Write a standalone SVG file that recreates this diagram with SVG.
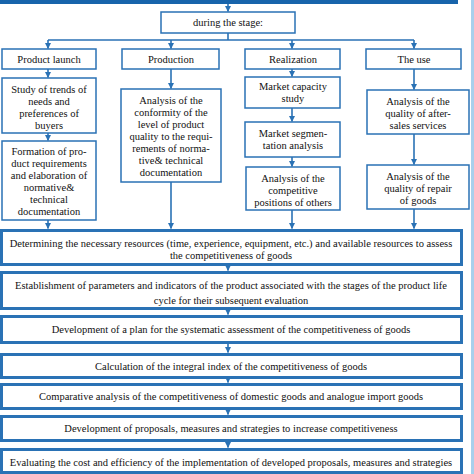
<svg xmlns="http://www.w3.org/2000/svg" width="474" height="474" viewBox="0 0 474 474">
<style>
text{font-family:"Liberation Serif","Times New Roman",serif;font-size:10.5px;fill:#111;text-anchor:middle}
.sb{fill:#fff;stroke:#2a72b5;stroke-width:1.5}
.bb{fill:#fff;stroke:#2a72b5;stroke-width:3}
.c{fill:none;stroke:#2a72b5;stroke-width:1.6}
</style>
<defs>
<marker id="ah" markerUnits="userSpaceOnUse" markerWidth="6" markerHeight="6" refX="5.5" refY="3" orient="auto">
<path d="M0,0 L6,3 L0,6 z" fill="#2a72b5"/>
</marker>
</defs>
<rect x="0" y="0" width="474" height="474" fill="#fff"/>
<rect x="0" y="0" width="458" height="4" fill="#1864ab"/>
<rect x="471" y="0" width="3" height="474" fill="#a8d0ec"/>

<g id="connectors">
<path class="c" d="M228,4 V11.5" marker-end="url(#ah)"/>
<path class="c" d="M228,33 V40 M48,40 H414"/>
<path class="c" d="M48,40 V48.5" marker-end="url(#ah)"/>
<path class="c" d="M171,40 V48.5" marker-end="url(#ah)"/>
<path class="c" d="M292,40 V48.5" marker-end="url(#ah)"/>
<path class="c" d="M414,40 V48.5" marker-end="url(#ah)"/>
<path class="c" d="M48,69 V77.5" marker-end="url(#ah)"/>
<path class="c" d="M48,133 V140.5" marker-end="url(#ah)"/>
<path class="c" d="M171,69 V88.5" marker-end="url(#ah)"/>
<path class="c" d="M292,69 V76.5" marker-end="url(#ah)"/>
<path class="c" d="M292,108 V121.5" marker-end="url(#ah)"/>
<path class="c" d="M292,157 V166.5" marker-end="url(#ah)"/>
<path class="c" d="M414,69 V89.5" marker-end="url(#ah)"/>
<path class="c" d="M414,134 V164.5" marker-end="url(#ah)"/>
<path class="c" d="M48,220 V228.5" marker-end="url(#ah)"/>
<path class="c" d="M171,182 V228.5" marker-end="url(#ah)"/>
<path class="c" d="M292,210 V228.5" marker-end="url(#ah)"/>
<path class="c" d="M414,209 V228.5" marker-end="url(#ah)"/>
<path class="c" d="M228,265 V270.5" marker-end="url(#ah)"/>
<path class="c" d="M228,309 V314.5" marker-end="url(#ah)"/>
<path class="c" d="M228,343 V352.5" marker-end="url(#ah)"/>
<path class="c" d="M228,378 V382.5" marker-end="url(#ah)"/>
<path class="c" d="M228,409 V414.5" marker-end="url(#ah)"/>
<path class="c" d="M228,441 V447.5" marker-end="url(#ah)"/>
</g>

<g id="stage"><rect class="sb" x="161" y="12" width="134" height="21"/><text x="228" y="26">during the stage:</text></g>

<g id="launch"><rect class="sb" x="2" y="49" width="94" height="20"/><text x="49" y="63">Product launch</text></g>
<g id="production"><rect class="sb" x="122" y="49" width="97" height="20"/><text x="171" y="63">Production</text></g>
<g id="realization"><rect class="sb" x="245" y="49" width="95" height="20"/><text x="293" y="63">Realization</text></g>
<g id="use"><rect class="sb" x="366" y="49" width="95" height="20"/><text x="414" y="63">The use</text></g>

<g id="trends"><rect class="sb" x="2" y="78" width="94" height="55"/>
<text x="49" y="93">Study of trends of</text><text x="49" y="105">needs and</text><text x="49" y="117">preferences of</text><text x="49" y="129">buyers</text></g>

<g id="formation"><rect class="sb" x="2" y="141" width="94" height="79"/>
<text x="49" y="155">Formation of pro-</text><text x="49" y="167">duct requirements</text><text x="49" y="179">and elaboration of</text><text x="49" y="191">normative&amp;</text><text x="49" y="203">technical</text><text x="49" y="215">documentation</text></g>

<g id="conformity"><rect class="sb" x="121" y="89" width="100" height="93"/>
<text x="171" y="104">Analysis of the</text><text x="171" y="116">conformity of the</text><text x="171" y="128">level of product</text><text x="171" y="140">quality to the requi-</text><text x="171" y="152">rements of norma-</text><text x="171" y="164">tive&amp; technical</text><text x="171" y="176">documentation</text></g>

<g id="capacity"><rect class="sb" x="245" y="77" width="95" height="31"/>
<text x="293" y="90">Market capacity</text><text x="293" y="102">study</text></g>

<g id="segmentation"><rect class="sb" x="245" y="122" width="95" height="35"/>
<text x="293" y="137">Market segmen-</text><text x="293" y="149">tation analysis</text></g>

<g id="competitive"><rect class="sb" x="246" y="167" width="94" height="43"/>
<text x="293" y="182">Analysis of the</text><text x="293" y="194">competitive</text><text x="293" y="206">positions of others</text></g>

<g id="aftersales"><rect class="sb" x="367" y="90" width="102" height="44"/>
<text x="418" y="105">Analysis of the</text><text x="418" y="117">quality of after-</text><text x="418" y="129">sales services</text></g>

<g id="repair"><rect class="sb" x="367" y="165" width="102" height="44"/>
<text x="418" y="180">Analysis of the</text><text x="418" y="192">quality of repair</text><text x="418" y="204">of goods</text></g>

<g id="resources"><rect class="bb" x="1.5" y="230.5" width="460" height="34"/>
<text x="231" y="247">Determining the necessary resources (time, experience, equipment, etc.) and available resources to assess</text>
<text x="231" y="259">the competitiveness of goods</text></g>

<g id="parameters"><rect class="bb" x="1.5" y="272.5" width="460" height="36"/>
<text x="231" y="289">Establishment of parameters and indicators of the product associated with the stages of the product life</text>
<text x="231" y="304">cycle for their subsequent evaluation</text></g>

<g id="plan"><rect class="bb" x="1.5" y="316.5" width="460" height="26"/>
<text x="231" y="333">Development of a plan for the systematic assessment of the competitiveness of goods</text></g>

<g id="integral"><rect class="bb" x="1.5" y="354.5" width="460" height="23"/>
<text x="231" y="369.5">Calculation of the integral index of the competitiveness of goods</text></g>

<g id="comparative"><rect class="bb" x="1.5" y="384.5" width="460" height="24"/>
<text x="231" y="400">Comparative analysis of the competitiveness of domestic goods and analogue import goods</text></g>

<g id="proposals"><rect class="bb" x="1.5" y="416.5" width="460" height="24"/>
<text x="231" y="431.5">Development of proposals, measures and strategies to increase competitiveness</text></g>

<g id="evaluating"><rect class="bb" x="1.5" y="449.5" width="460" height="23"/>
<text x="231" y="466">Evaluating the cost and efficiency of the implementation of developed proposals, measures and strategies</text></g>
</svg>
